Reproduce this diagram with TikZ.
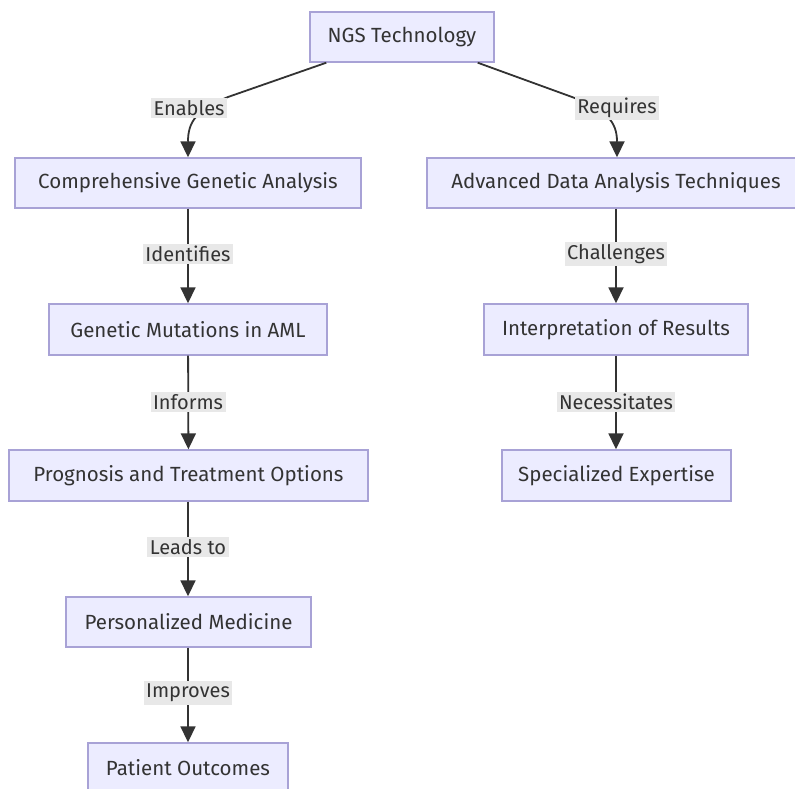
\documentclass[tikz,border=0pt]{standalone}
\usepackage{fontspec}
\setmainfont{Fira Sans}
\usetikzlibrary{arrows.meta,calc}
\definecolor{boxfill}{HTML}{ECECFF}
\definecolor{boxline}{HTML}{A8A2D6}
\definecolor{ink}{HTML}{333333}
\definecolor{lblfill}{HTML}{E8E8E8}
\tikzset{
  box/.style={draw=boxline, fill=boxfill, line width=1.4pt, minimum height=50pt,
    inner sep=0pt, text=ink, font=\fontsize{20.5}{24}\selectfont},
  lbl/.style={fill=lblfill, inner sep=2.5pt, text=ink, font=\fontsize{20}{24}\selectfont},
  flow/.style={draw=ink, line width=1.8pt, -{Triangle[length=16pt,width=15pt]}},
}
\begin{document}
\begin{tikzpicture}[x=1pt,y=-1pt]
  \useasboundingbox (0,0) rectangle (795,789);
  \clip (0,0) rectangle (795,789);
  \fill[white] (0,0) rectangle (795,789);

  % nodes
  \node[box, minimum width=184pt] (ngs) at (402,37) {NGS Technology};
  \node[box, minimum width=346pt] (cga) at (188,183) {Comprehensive Genetic Analysis};
  \node[box, minimum width=378pt] (adt) at (616,183) {Advanced Data Analysis Techniques};
  \node[box, minimum width=278pt, minimum height=51pt] (gma) at (188,329.5) {Genetic Mutations in AML};
  \node[box, minimum width=359pt, minimum height=51pt] (pto) at (188.5,475.5) {Prognosis and Treatment Options};
  \node[box, minimum width=245pt] (pm) at (188.5,622) {Personalized Medicine};
  \node[box, minimum width=200pt] (po) at (188,768) {Patient Outcomes};
  \node[box, minimum width=264pt, minimum height=51pt] (ior) at (616,329.5) {Interpretation of Results};
  \node[box, minimum width=229pt, minimum height=51pt] (se) at (616.5,475.5) {Specialized Expertise};

  % branch points of the two top connectors
  \coordinate (el) at (228,97);
  \coordinate (er) at (572,97);

  % connectors
  \draw[flow] ($(ngs.south west)+(17,0)$) -- (el)
    .. controls (196,110) and (188,122) .. (cga.north);
  \draw[flow] ($(ngs.south east)+(-17,0)$) -- (er)
    .. controls (607,110) and (617,122) .. (adt.north -| 617,0);
  \draw[flow] (cga) -- (gma);
  \draw[flow] (gma) -- (pto);
  \draw[flow] (pto.south -| gma.south) -- (pm.north -| gma.south);
  \draw[flow] (pm.south -| gma.south) -- (po.north -| gma.south);
  \draw[flow] (adt.south -| ior.south) -- (ior);
  \draw[flow] (ior) -- (se.north -| ior.south);

  % connector labels
  \node[lbl] (l1) at (189,108) {Enables};
  \node[lbl] (l2) at (617,108) {Requires};
  \node[lbl] (l3) at (188,254) {Identifies};
  \node[lbl] (l4) at (616,254) {Challenges};
  \node[lbl] (l5) at (188,402) {Informs};
  \node[lbl] (l6) at (616,402) {Necessitates};
  \node[lbl] (l7) at (188,547) {Leads to};
  \node[lbl] (l8) at (188,693) {Improves};
\end{tikzpicture}
\end{document}
